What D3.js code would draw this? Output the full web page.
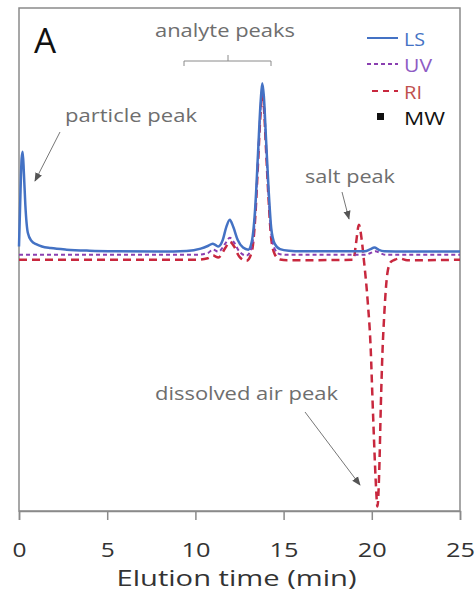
<!DOCTYPE html>
<html><head><meta charset="utf-8">
<script src="https://cdn.jsdelivr.net/npm/d3@7"></script>
<style>
html,body{margin:0;padding:0;background:#fff;}
svg{display:block;font-family:"Open Sans",sans-serif;}
</style></head>
<body>
<svg id="chart" width="475" height="595"></svg>
<script>
// ---- data (elution time in min, detector signal in arbitrary units) ----
const lsTime  = [0,0.08,0.15,0.21,0.28,0.36,0.5,0.7,1.0,1.3,1.8,2.7,4,5.5,8,9.5,10.3,10.7,10.98,11.15,11.3,11.55,11.75,11.95,12.15,12.4,12.7,13.0,13.2,13.4,13.55,13.7,13.79,13.88,14.0,14.15,14.3,14.5,14.8,15.3,16,18,19.6,19.9,20.15,20.4,20.7,22,25];
const lsValue = [2,22,36,38.6,30,18,7.3,4.2,2.8,2.0,1.4,0.8,0.4,0.2,0.1,0.3,1.2,2.2,3.1,2.5,2.0,4.5,9.5,12.3,9.5,4.5,1.6,0.8,4,18,38,58,65,60,44,24,9,3,1,0.4,0.2,0.2,0.2,0.9,1.6,0.7,0.2,0.1,0.1];

const uvTime  = [0,2,10,10.7,11.0,11.3,11.7,11.95,12.2,12.5,12.9,13.2,13.4,13.55,13.7,13.79,13.88,14.0,14.15,14.3,14.5,14.8,15.2,19.6,19.9,20.2,20.5,20.8,25];
const uvValue = [-1.2,-1.2,-1.2,-0.5,0.8,0,3.2,5.4,3.5,0,-1.5,2,16,36,56,63,58,42,22,7,1,-1,-1.2,-1.2,-0.6,0.2,-0.6,-1.2,-1.2];

const riTime  = [0,2,10,10.7,11.0,11.3,11.7,11.95,12.2,12.5,12.9,13.2,13.4,13.55,13.7,13.79,13.88,14.0,14.15,14.3,14.5,14.8,15.2,18.96,19.1,19.27,19.42,19.55,19.76,19.94,20.04,20.11,20.22,20.32,20.42,20.51,20.61,20.7,20.89,21.08,21.3,21.6,22,25];
const riValue = [-3.1,-3.1,-3.1,-2.5,-1.5,-2.2,1.5,3.9,2,-2,-3.5,0,14,34,54,61,56,40,20,5,-1,-3,-3.3,-3.1,3,10.4,5,-3.1,-18.5,-37.8,-57,-69.8,-88,-98.3,-85,-59.8,-37.8,-25,-8,-3.9,-3.1,-2.6,-3.3,-3.1];

const xTicks = [0,5,10,15,20,25];
const seriesNames = ["LS","UV","RI","MW"];
const annotations = ["analyte peaks","particle peak","salt peak","dissolved air peak"];
const panelLabel = "A";
const xTitle = "Elution time (min)";

// ---- layout ----
const svg = d3.select("#chart");
const L = 19, R = 460, T = 8, B = 511;
const x = d3.scaleLinear().domain([0,25]).range([L,R]);
const y = d3.scaleLinear().domain([-100,94]).range([B,T]);

const gray = "#8a8a8a", textGray = "#6e6e6e";
const cLS = "#4472c4", cUV = "#8a3fb0", cRI = "#c8283e";

// frame
svg.append("rect").attr("x",L).attr("y",T).attr("width",R-L).attr("height",B-T)
  .attr("fill","none").attr("stroke",gray).attr("stroke-width",1.5);

// x axis
const xAxis = d3.axisBottom(x).tickValues(xTicks).tickSize(9).tickPadding(0).tickFormat(d3.format("d"));
const gx = svg.append("g").attr("transform",`translate(0,${B})`).call(xAxis);
gx.select(".domain").attr("stroke",gray).attr("stroke-width",1.5);
gx.selectAll(".tick line").attr("stroke",gray).attr("stroke-width",1.5);
gx.selectAll(".tick text").attr("font-size",20).attr("fill","#333").attr("font-family","Open Sans")
  .attr("dy",null).attr("y",46)
  .attr("textLength",d=>String(d).length===1?14:29).attr("lengthAdjust","spacingAndGlyphs");

svg.append("text").attr("x",(L+R)/2-3).attr("y",586).attr("text-anchor","middle")
  .attr("font-size",21).attr("fill","#333")
  .attr("textLength",240).attr("lengthAdjust","spacingAndGlyphs").text(xTitle);

// lines
const mk = (t,v)=>t.map((d,i)=>[d,v[i]]);
const lineGen = d3.line().x(d=>x(d[0])).y(d=>y(d[1])).curve(d3.curveMonotoneX);
const plot = svg.append("g");
plot.append("path").datum(mk(riTime,riValue)).attr("d",lineGen)
  .attr("fill","none").attr("stroke",cRI).attr("stroke-width",2.5).attr("stroke-dasharray","8,5");
plot.append("path").datum(mk(uvTime,uvValue)).attr("d",lineGen)
  .attr("fill","none").attr("stroke",cUV).attr("stroke-width",2).attr("stroke-dasharray","4,3");
plot.append("path").datum(mk(lsTime,lsValue)).attr("d",lineGen)
  .attr("fill","none").attr("stroke",cLS).attr("stroke-width",2.5);

// legend
const lg = svg.append("g");
const legY = [38,64,91,117];
lg.append("line").attr("x1",367).attr("x2",398).attr("y1",legY[0]).attr("y2",legY[0]).attr("stroke",cLS).attr("stroke-width",2);
lg.append("line").attr("x1",367).attr("x2",398).attr("y1",legY[1]).attr("y2",legY[1]).attr("stroke",cUV).attr("stroke-width",2).attr("stroke-dasharray","4,3");
lg.append("line").attr("x1",372).attr("x2",398).attr("y1",legY[2]).attr("y2",legY[2]).attr("stroke",cRI).attr("stroke-width",2).attr("stroke-dasharray","6,5");
lg.append("rect").attr("x",377).attr("y",legY[3]-4).attr("width",7).attr("height",7).attr("fill","#111");
const legCol = [cLS,"#8e5cc4","#c0504d","#111"];
const legW = [21,28,18,41];
seriesNames.forEach((n,i)=>{
  lg.append("text").attr("x",404).attr("y",legY[i]+8).attr("font-size",19).attr("fill",legCol[i])
    .attr("textLength",legW[i]).attr("lengthAdjust","spacingAndGlyphs").text(n);
});

// panel label
svg.append("text").attr("x",34).attr("y",53).attr("font-size",35).attr("fill","#111").text(panelLabel);

// annotations
const defs = svg.append("defs");
defs.append("marker").attr("id","ah").attr("viewBox","0 0 10 10").attr("refX",9).attr("refY",5)
  .attr("markerWidth",9).attr("markerHeight",9).attr("markerUnits","userSpaceOnUse").attr("orient","auto")
  .append("path").attr("d","M0,1 L10,5 L0,9 z").attr("fill","#555");

function label(txt, x0, yb, w){
  svg.append("text").attr("x",x0).attr("y",yb).attr("font-size",19).attr("fill",textGray)
    .attr("textLength",w).attr("lengthAdjust","spacingAndGlyphs").text(txt);
}
label(annotations[0],155,37,140);
svg.append("path").attr("d","M184,66 L184,61 L271,61 L271,66 M228,61 L228,55").attr("fill","none").attr("stroke",gray).attr("stroke-width",1);

label(annotations[1],65,122,132);
svg.append("line").attr("x1",60).attr("y1",132).attr("x2",35).attr("y2",181).attr("stroke","#777").attr("stroke-width",1).attr("marker-end","url(#ah)");

label(annotations[2],305,183,90);
svg.append("line").attr("x1",342).attr("y1",192).attr("x2",349).attr("y2",219).attr("stroke","#777").attr("stroke-width",1).attr("marker-end","url(#ah)");

label(annotations[3],155,400,183);
svg.append("line").attr("x1",305).attr("y1",412).attr("x2",360).attr("y2",485).attr("stroke","#777").attr("stroke-width",1).attr("marker-end","url(#ah)");
</script>
</body></html>
